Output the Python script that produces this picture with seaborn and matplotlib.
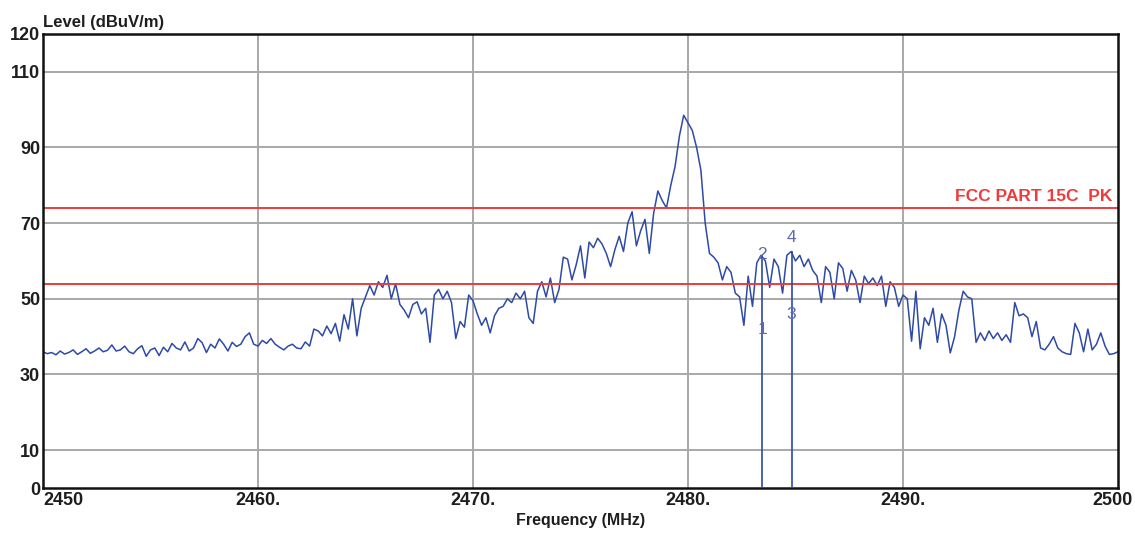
import matplotlib
matplotlib.use("Agg")
import matplotlib.pyplot as plt
import matplotlib.transforms as mtransforms
import numpy as np
import pandas as pd
import seaborn as sns

# spectrum sweep 2450 - 2500 MHz, one reading every 0.2 MHz
levels = [
    36.0, 35.5, 35.8, 35.2, 36.2, 35.4, 35.8, 36.5, 35.3, 36.0,
    36.8, 35.6, 36.2, 37.0, 36.0, 36.4, 37.8, 36.2, 36.5, 37.5,
    36.0, 35.5, 36.8, 37.6, 34.8, 36.5, 37.0, 35.0, 37.2, 36.0,
    38.2, 37.0, 36.5, 38.6, 36.2, 37.0, 39.5, 38.4, 35.8, 38.0,
    37.0, 39.4, 38.0, 36.2, 38.5, 37.4, 38.0, 40.0, 41.0, 38.0,
    37.5, 39.0, 38.2, 39.5, 38.0, 37.2, 36.5, 37.5, 38.0, 37.0,
    36.8, 38.6, 37.5, 42.0, 41.5, 40.2, 42.8, 40.8, 43.5, 38.8,
    45.8, 42.0, 50.0, 40.2, 47.5, 50.5, 53.5, 51.0, 54.5, 53.0,
    56.2, 50.0, 54.0, 48.5, 47.0, 45.0, 48.5, 49.2, 46.0, 47.5,
    38.5, 51.0, 52.5, 50.0, 52.0, 49.0, 39.5, 44.0, 42.5, 51.0,
    49.5, 46.0, 43.0, 45.0, 41.0, 45.5, 47.5, 48.0, 50.0, 49.0,
    51.5, 50.0, 52.0, 45.0, 43.5, 52.0, 54.5, 50.5, 55.5, 49.0,
    52.5, 61.0, 60.5, 55.0, 59.0, 64.0, 55.5, 65.0, 63.5, 66.0,
    64.5, 62.0, 58.5, 63.0, 66.5, 62.5, 70.0, 73.0, 64.0, 68.0,
    71.0, 62.0, 72.5, 78.5, 76.0, 74.0, 80.0, 85.0, 93.0, 98.5,
    96.5, 94.5, 90.0, 84.0, 70.0, 62.0, 61.0, 59.5, 55.0, 58.5,
    57.0, 51.5, 50.5, 43.0, 56.0, 48.0, 59.5, 61.5, 60.0, 53.0,
    60.5, 58.5, 51.5, 61.5, 62.5, 60.0, 61.5, 58.5, 60.5, 57.5,
    56.0, 49.0, 58.5, 57.0, 50.0, 59.5, 58.0, 52.0, 57.5, 55.0,
    49.0, 56.0, 54.0, 55.5, 53.5, 56.0, 48.0, 54.5, 53.0, 48.0,
    51.0, 50.0, 38.8, 52.0, 36.8, 45.0, 43.0, 47.5, 38.5, 46.0,
    43.0, 35.7, 40.0, 47.0, 52.0, 50.5, 50.0, 38.5, 41.0, 39.0,
    41.5, 39.5, 41.0, 39.0, 40.5, 38.5, 49.0, 45.5, 46.0, 45.0,
    40.0, 44.0, 37.0, 36.5, 38.0, 40.0, 37.0, 36.0, 35.5, 35.3,
    43.5, 41.0, 36.0, 42.0, 36.5, 38.0, 41.0, 37.5, 35.3, 35.5,
    36.0,
]
f_start, f_stop = 2450, 2500

# limit lines
limit_pk = 74
limit_av = 54
limit_name = "FCC PART 15C  PK"

# markers
marker_ids = ["1", "2", "3", "4"]
marker_freqs = [2483.45, 2483.45, 2484.8, 2484.8]
marker_levels = [41.8, 61.6, 45.8, 66.1]
# drop-outs of the trace down to 0 at the band-edge markers
spike_freqs = [2483.45, 2484.85]
spike_levels = [61.5, 62.5]

yticks = [0, 10, 30, 50, 70, 90, 110, 120]
xticks = [2450, 2460, 2470, 2480, 2490, 2500]
xticklabels = ["2450", "2460.", "2470.", "2480.", "2490.", "2500"]

df = pd.DataFrame({"Frequency": np.linspace(f_start, f_stop, len(levels)), "Level": levels})

sns.set_style("white")
plt.rcParams["font.family"] = ["Liberation Sans", "DejaVu Sans"]

fig = plt.figure(figsize=(11.35, 5.33), dpi=100)
ax = fig.add_axes([0.0379, 0.0844, 0.9471, 0.852])

trace_col = "#2d4aa6"
red = "#ee3b3b"
mk_col = "#5e6aae"
txt = "#1e1e1e"

sns.lineplot(data=df, x="Frequency", y="Level", ax=ax, color=trace_col, lw=1.1, estimator=None)
ax.vlines(spike_freqs, 0, spike_levels, color=trace_col, lw=1.2, zorder=3)

ax.axhline(limit_pk, color=red, lw=1.4, zorder=2)
ax.axhline(limit_av, color=red, lw=1.4, zorder=2)
ax.text(2499.75, limit_pk + 1.0, limit_name, color=red, fontsize=12.5, fontweight="bold",
        ha="right", va="bottom")

for mid, mf, ml in zip(marker_ids, marker_freqs, marker_levels):
    ax.text(mf, ml, mid, color=mk_col, fontsize=12.5, ha="center", va="center", zorder=4)

ax.set_xlim(f_start, f_stop)
ax.set_ylim(0, 120)
ax.set_yticks(yticks)
ax.set_xticks(xticks)
ax.set_xticklabels(xticklabels)
ax.tick_params(axis="both", length=0, labelsize=13, colors=txt)
ax.tick_params(axis="y", pad=2)
ax.tick_params(axis="x", pad=3)
for lab in ax.get_yticklabels() + ax.get_xticklabels():
    lab.set_fontweight("bold")
xl = ax.get_xticklabels()
xl[0].set_ha("left")
xl[-1].set_ha("right")
xl[-1].set_transform(xl[-1].get_transform() + mtransforms.ScaledTranslation(0.15, 0, fig.dpi_scale_trans))

# gridlines only inside the frame
for x in xticks[1:-1]:
    ax.axvline(x, color="#a8a8a8", lw=1.4, zorder=1)
for y in yticks[1:-1]:
    ax.axhline(y, color="#a8a8a8", lw=1.4, zorder=1)

for s in ax.spines.values():
    s.set_color("#111111")
    s.set_linewidth(1.8)

ax.set_xlabel("Frequency (MHz)", fontsize=11.5, fontweight="bold", color=txt, labelpad=3)
ax.set_ylabel("")
ax.text(0.0, 1.008, "Level (dBuV/m)", transform=ax.transAxes, fontsize=12,
        fontweight="bold", color=txt, ha="left", va="bottom")

fig.savefig("out.png", dpi=100, facecolor="white")
